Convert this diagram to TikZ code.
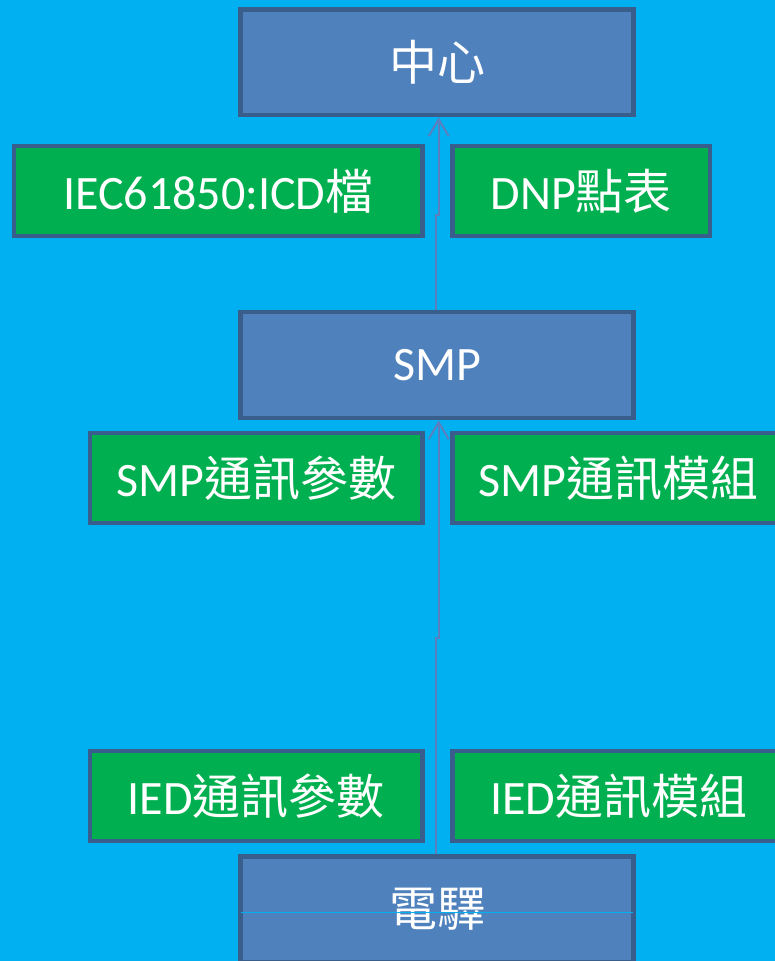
\documentclass[tikz,border=0pt]{standalone}
\usepackage{fontspec}
\setmainfont{Carlito}
\newfontfamily\cjk{Noto Sans CJK TC}
\newcommand\zh[1]{{\cjk #1}}
\usetikzlibrary{arrows.meta}
\definecolor{bgc}{HTML}{00B0F0}
\definecolor{boxblue}{HTML}{4F81BD}
\definecolor{bordc}{HTML}{3A5E8C}
\definecolor{boxgreen}{HTML}{00B050}
\definecolor{arrowc}{HTML}{5A7EBE}
\tikzset{
  base/.style={draw=bordc, line width=4.5pt, text=white, inner sep=0pt,
    font=\fontsize{48}{52}\selectfont},
  bluebox/.style={base, fill=boxblue},
  greenbox/.style={base, fill=boxgreen},
  conn/.style={draw=arrowc, line width=2pt, -{Straight Barb[length=17pt,width=20pt]}},
}
\begin{document}
\begin{tikzpicture}[x=1pt,y=-1pt]
\useasboundingbox (0,0) rectangle (775,961);
\clip (0,0) rectangle (775,961);
\fill[bgc] (0,0) rectangle (775,961);

\node[bluebox, minimum width=393pt, minimum height=105.5pt] (zhongxin) at (437,62.25) {\zh{中心}};
\node[greenbox, minimum width=408.5pt, minimum height=90pt] (icd) at (218.25,191) {IEC61850:ICD\zh{檔}};
\node[greenbox, minimum width=257.5pt, minimum height=90pt] (dnp) at (581.25,191) {DNP\zh{點表}};
\node[bluebox, minimum width=393pt, minimum height=106pt] (smp) at (437,365) {SMP};
\node[greenbox, minimum width=332.5pt, minimum height=90pt] (smppar) at (256.25,478) {SMP\zh{通訊參數}};
\node[greenbox, minimum width=332.5pt, minimum height=90pt] (smpmod) at (618.75,478) {SMP\zh{通訊模組}};
\node[greenbox, minimum width=332.5pt, minimum height=90pt] (iedpar) at (256.25,796) {IED\zh{通訊參數}};
\node[greenbox, minimum width=332.5pt, minimum height=90pt] (iedmod) at (618.75,796) {IED\zh{通訊模組}};
\node[bluebox, minimum width=393pt, minimum height=105.5pt] (dianyi) at (437,909.25) {\zh{電驛}};
\draw[bgc, line width=1pt] ([xshift=2.5pt,yshift=-3pt]dianyi.west) -- ([xshift=-2.5pt,yshift=-3pt]dianyi.east);

\coordinate (ja) at (436,638);
\coordinate (jb) at (438.7,638);
\coordinate (jc) at (436,215);
\coordinate (jd) at (438.7,215);
\draw[conn] (dianyi.north -| ja) -- (ja) -- (jb) -- (smp.south -| jb);
\draw[conn] (smp.north -| jc) -- (jc) -- (jd) -- (zhongxin.south -| jd);
\end{tikzpicture}
\end{document}
